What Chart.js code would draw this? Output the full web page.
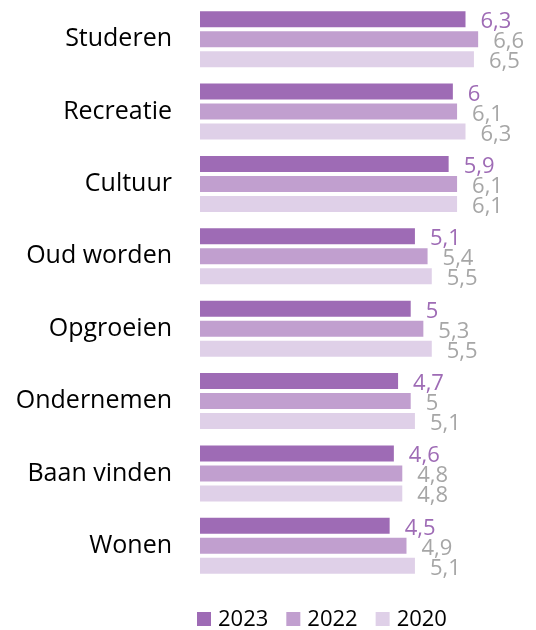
<!DOCTYPE html>
<html>
<head>
<meta charset="utf-8">
<script src="https://cdn.jsdelivr.net/npm/chart.js@4/dist/chart.umd.min.js"></script>
<style>
  html, body { margin: 0; padding: 0; background: #fff; }
</style>
</head>
<body>
<canvas id="chart" width="536" height="630"></canvas>
<script>
const categories = ['Studeren', 'Recreatie', 'Cultuur', 'Oud worden', 'Opgroeien', 'Ondernemen', 'Baan vinden', 'Wonen']
const values2023 = [6.3, 6, 5.9, 5.1, 5, 4.7, 4.6, 4.5]
const values2022 = [6.6, 6.1, 6.1, 5.4, 5.3, 5, 4.8, 4.9]
const values2020 = [6.5, 6.3, 6.1, 5.5, 5.5, 5.1, 4.8, 5.1]
const seriesNames = ['2023', '2022', '2020']

const barColors = ['#9e6bb5', '#c19fcf', '#dfd0e8']
const labelColors = ['#9e6bb5', '#a6a6a6', '#a6a6a6']
const FONT = '"Open Sans", sans-serif'

// value next to each bar end, comma as decimal sign
const valueLabels = {
  id: 'valueLabels',
  afterDatasetsDraw(chart) {
    const ctx = chart.ctx
    ctx.save()
    ctx.font = '22px ' + FONT
    ctx.textAlign = 'left'
    ctx.textBaseline = 'alphabetic'
    chart.data.datasets.forEach((ds, i) => {
      chart.getDatasetMeta(i).data.forEach((bar, j) => {
        ctx.fillStyle = labelColors[i]
        ctx.fillText(String(ds.data[j]).replace('.', ','), bar.x + 15, bar.y + 9)
      })
    })
    ctx.restore()
  }
}

// legend at the bottom: square + year
const bottomLegend = {
  id: 'bottomLegend',
  afterDraw(chart) {
    const ctx = chart.ctx
    ctx.save()
    ctx.font = '22px ' + FONT
    ctx.textBaseline = 'alphabetic'
    let x = 197
    const base = 626
    chart.data.datasets.forEach((ds, i) => {
      ctx.fillStyle = barColors[i]
      ctx.fillRect(x, base - 14, 14, 14)
      x += 21
      ctx.fillStyle = '#000'
      ctx.fillText(ds.label, x, base)
      x += ctx.measureText(ds.label).width + 18
    })
    ctx.restore()
  }
}

const chart = new Chart(document.getElementById('chart'), {
  type: 'bar',
  data: {
    labels: categories,
    datasets: [values2023, values2022, values2020].map((d, i) => ({
      label: seriesNames[i],
      data: d,
      backgroundColor: barColors[i],
      categoryPercentage: 0.83,
      barPercentage: 0.8,
    })),
  },
  options: {
    indexAxis: 'y',
    responsive: false,
    animation: false,
    layout: { padding: { top: 3, right: 41, bottom: 48, left: 0 } },
    plugins: {
      legend: { display: false },
      tooltip: { enabled: false },
    },
    scales: {
      x: { display: false, min: 0, max: 7 },
      y: {
        grid: { display: false },
        border: { display: false },
        ticks: { color: '#000', font: { family: FONT, size: 25 }, padding: 20 },
        afterFit(scale) {
          scale.width = 200
          scale.paddingTop = 0
          scale.paddingBottom = 0
        },
      },
    },
  },
  plugins: [valueLabels, bottomLegend],
})
</script>
</body>
</html>
